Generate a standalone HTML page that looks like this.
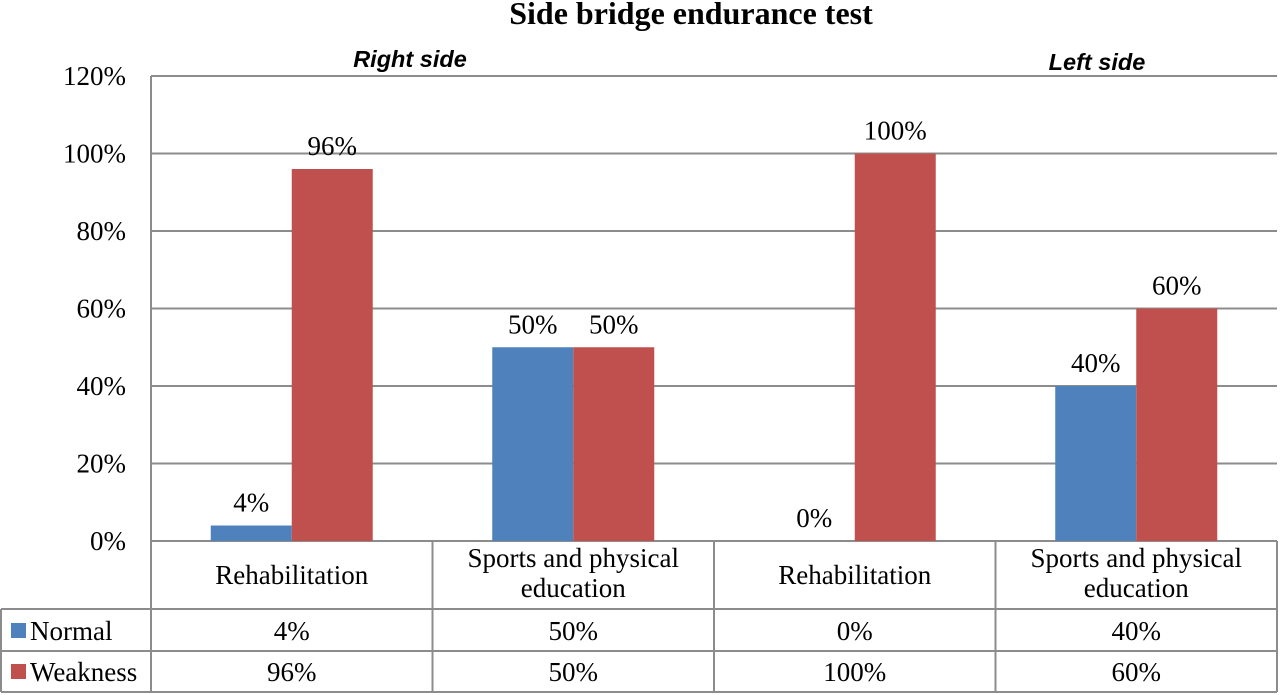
<!DOCTYPE html>
<html><head><meta charset="utf-8"><style>
body{margin:0;background:#fff}
svg{display:block;font-family:"Liberation Serif",serif}
</style></head><body>
<svg id="c" width="1280" height="695">
<text x="691" y="24" text-anchor="middle" font-size="32" font-weight="bold">Side bridge endurance test</text>
<text x="410" y="67" text-anchor="middle" font-size="23.5" font-weight="bold" font-style="italic" font-family="Liberation Sans, sans-serif">Right side</text>
<text x="1097" y="70" text-anchor="middle" font-size="23.5" font-weight="bold" font-style="italic" font-family="Liberation Sans, sans-serif">Left side</text>
<g id="grid"></g><g id="bars"></g><g id="tbl"></g>
</svg>
<script>
const categories=["Rehabilitation","Sports and physical|education","Rehabilitation","Sports and physical|education"];
const normal=[4,50,0,40];
const weakness=[96,50,100,60];
const ticks=[0,20,40,60,80,100,120];
const NS="http://www.w3.org/2000/svg";
const L=151,R=1277,Y0=541,YT=76,cw=(R-L)/4,bw=81,FS=27;
const y=v=>Y0-(v/120)*(Y0-YT);
const cx=i=>L+cw*i+cw/2;
function mk(p,t,a){const e=document.createElementNS(NS,t);for(const k in a)e.setAttribute(k,a[k]);document.getElementById(p).appendChild(e);return e;}
ticks.forEach(t=>{
 const l=mk("grid","line",{x1:L,x2:R,y1:y(t),y2:y(t),stroke:"#8c8c8c","stroke-width":2});
 
 
 const tx=mk("grid","text",{x:126,y:y(t)+9,"text-anchor":"end","font-size":FS});
 tx.textContent=t+"%";
 
 
});
const ax=mk("grid","line",{x1:L,x2:L,y1:YT,y2:Y0,stroke:"#8c8c8c","stroke-width":2});


categories.forEach((c,i)=>{
 const b1=mk("bars","rect",{x:cx(i)-bw,y:y(normal[i]),width:bw,height:Y0-y(normal[i]),fill:"#4f81bd"});
 
 
 const b2=mk("bars","rect",{x:cx(i),y:y(weakness[i]),width:bw,height:Y0-y(weakness[i]),fill:"#c0504d"});
 
 
 const t1=mk("bars","text",{x:cx(i)-bw/2,y:y(normal[i])-14,"text-anchor":"middle","font-size":FS});
 t1.textContent=normal[i]+"%";
 
 
 const t2=mk("bars","text",{x:cx(i)+bw/2,y:y(weakness[i])-14,"text-anchor":"middle","font-size":FS});
 t2.textContent=weakness[i]+"%";
 
 
 const parts=c.split("|");
 parts.forEach((p,j)=>{
  const ct=mk("tbl","text",{x:cx(i),y:parts.length==1?584:(567+j*30),"text-anchor":"middle","font-size":FS});
  ct.textContent=p;
  
  
 });
 const n=mk("tbl","text",{x:cx(i),y:640,"text-anchor":"middle","font-size":FS});
 n.textContent=normal[i]+"%";
 
 
 const w=mk("tbl","text",{x:cx(i),y:681,"text-anchor":"middle","font-size":FS});
 w.textContent=weakness[i]+"%";
 
 
});
const st={stroke:"#8c8c8c","stroke-width":2};
[[L,Y0,L,692],[R,Y0,R,692],[1,609,1,692],[1,609,R,609],[1,651,R,651],[1,692,R,692]].forEach(a=>{
 const l=mk("tbl","line",Object.assign({x1:a[0],y1:a[1],x2:a[2],y2:a[3]},st));
 
 
});
for(let i=1;i<4;i++){
 const l=mk("tbl","line",Object.assign({x1:L+cw*i,y1:Y0,x2:L+cw*i,y2:692},st));
 
 
}
[["Normal","#4f81bd",640],["Weakness","#c0504d",681]].forEach(r=>{
 const s=mk("tbl","rect",{x:11,y:r[2]-17,width:15,height:15,fill:r[1]});
 
 
 const t=mk("tbl","text",{x:30,y:r[2],"font-size":FS});
 t.textContent=r[0];
 
 
});
</script>
</body></html>
